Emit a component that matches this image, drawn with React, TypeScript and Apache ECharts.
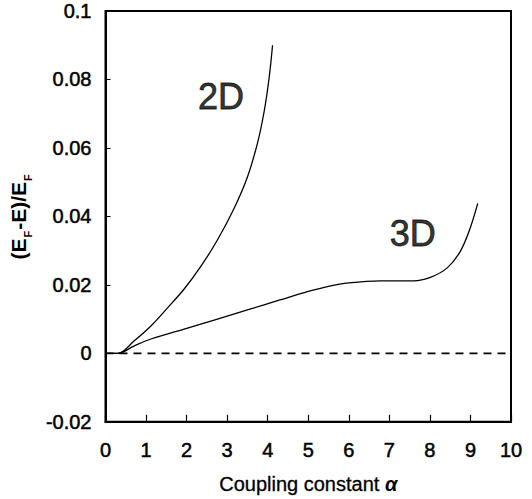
import React, { useEffect, useRef } from "react";
import * as echarts from "echarts";

const curve2D: [number, number][] = [
  [0, 0], [0.3, 0], [0.71, 0.0037], [1.12, 0.008], [1.53, 0.0133],
  [1.94, 0.0188], [2.35, 0.0254], [2.76, 0.0331], [3.17, 0.0423],
  [3.5, 0.0515], [3.75, 0.0615], [3.91, 0.0705], [4.03, 0.08], [4.12, 0.09],
];

const curve3D: [number, number][] = [
  [0, 0], [0.3, 0], [0.71, 0.0022], [1.12, 0.0042], [1.94, 0.0071],
  [2.76, 0.01], [3.56, 0.0129], [4.3, 0.0156], [5, 0.0181], [5.5, 0.0196],
  [6, 0.0206], [6.78, 0.0212], [7.6, 0.0212], [8.01, 0.0222], [8.42, 0.0249],
  [8.75, 0.0298], [8.99, 0.0365], [9.18, 0.0438],
];

const zeroLine: [number, number][] = [[0, 0], [10, 0]];

const xTicks = [0, 1, 2, 3, 4, 5, 6, 7, 8, 9, 10];
const yTickLabels = ["-0.02", "0", "0.02", "0.04", "0.06", "0.08", "0.1"];

const label2D = { text: "2D", x: 2.85, y: 0.075 };
const label3D = { text: "3D", x: 7.58, y: 0.0351 };

export default function App() {
  const ref = useRef<HTMLDivElement>(null);
  useEffect(() => {
    if (!ref.current) return;
    const chart = echarts.init(ref.current, null, { renderer: "svg" });
    const font = "Liberation Sans, Arial, Helvetica, sans-serif";
    const heavy = { textBorderColor: "#000", textBorderWidth: 0.5 };
    chart.setOption({
      animation: false,
      backgroundColor: "#fff",
      textStyle: { fontFamily: font, color: "#000" },
      grid: {
        left: 105, right: 21, top: 11, bottom: 74,
        show: true, borderColor: "#000", borderWidth: 2,
      },
      xAxis: {
        type: "value", min: 0, max: 10, interval: 1,
        axisLine: { show: true, onZero: false, lineStyle: { color: "#000", width: 2 } },
        axisTick: { show: true, inside: true, length: 7, lineStyle: { color: "#000", width: 1.2 } },
        axisLabel: {
          color: "#000", fontSize: 20, margin: 18, fontFamily: font, ...heavy,
          formatter: (v: number) => String(xTicks[Math.round(v)] ?? v),
        },
        splitLine: { show: false },
        name: "{a|Coupling constant }{g|α}",
        nameLocation: "middle",
        nameGap: 52,
        nameTextStyle: {
          rich: {
            a: { color: "#000", fontSize: 20, fontFamily: font, textBorderColor: "#000", textBorderWidth: 0.3 },
            g: { color: "#000", fontSize: 20, fontFamily: font, fontWeight: "bold", fontStyle: "italic" },
          },
        },
      },
      yAxis: {
        type: "value", min: -0.02, max: 0.1, interval: 0.02,
        axisLine: { show: true, onZero: false, lineStyle: { color: "#000", width: 2 } },
        axisTick: { show: true, inside: true, length: 5, lineStyle: { color: "#000", width: 1 } },
        axisLabel: {
          color: "#000", fontSize: 20, margin: 14, fontFamily: font, ...heavy,
          formatter: (v: number) => yTickLabels[Math.round((v + 0.02) / 0.02)] ?? String(v),
        },
        splitLine: { show: false },
        name: "{a|(E}{s|F}{a|-E)/E}{s|F}",
        nameLocation: "middle",
        nameGap: 72,
        nameRotate: 90,
        nameTextStyle: {
          rich: {
            a: { fontSize: 21, fontWeight: "bold", color: "#000", fontFamily: font, lineHeight: 30, verticalAlign: "middle" },
            s: { fontSize: 11, fontWeight: "bold", color: "#000", fontFamily: font, lineHeight: 30, verticalAlign: "bottom", padding: [0, 1, 0, 1] },
          },
        },
      },
      series: [
        {
          type: "line", data: zeroLine, symbol: "none", silent: true,
          lineStyle: { color: "#000", width: 1.6, type: [8, 6] },
        },
        {
          type: "line", data: curve2D, symbol: "none", smooth: 0.35,
          lineStyle: { color: "#000", width: 1.3 },
        },
        {
          type: "line", data: curve3D, symbol: "none", smooth: 0.35,
          lineStyle: { color: "#000", width: 1.3 },
        },
        {
          type: "scatter", symbolSize: 0, silent: true,
          data: [
            { value: [label2D.x, label2D.y], name: label2D.text },
            { value: [label3D.x, label3D.y], name: label3D.text },
          ],
          label: {
            show: true, position: "inside", formatter: "{b}",
            color: "#000", fontSize: 36, fontFamily: font,
            textBorderColor: "#000", textBorderWidth: 0.8,
          },
        },
      ],
    });
    return () => chart.dispose();
  }, []);
  return <div ref={ref} style={{ width: 532, height: 499, position: "absolute", left: 0, top: 0 }} />;
}
